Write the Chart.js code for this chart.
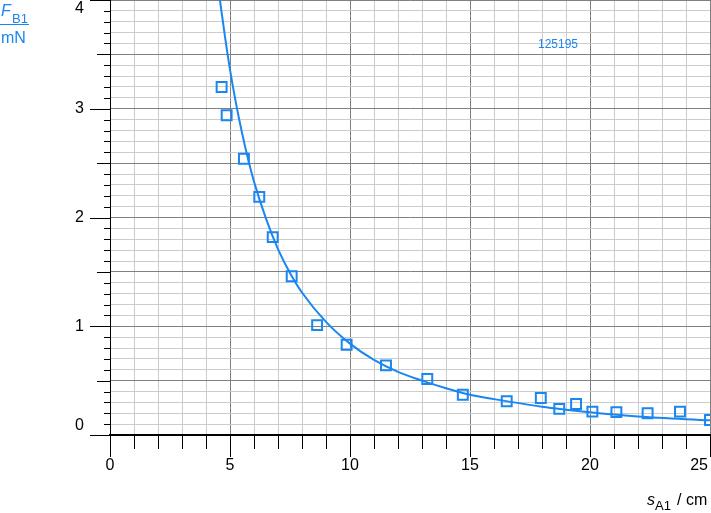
<!DOCTYPE html>
<html>
<head>
<meta charset="utf-8">
<script src="https://cdn.jsdelivr.net/npm/chart.js@4/dist/chart.umd.min.js"></script>
<style>
  html, body { margin: 0; padding: 0; background: #fff; }
  #rahmen { width: 711px; height: 513px; }
</style>
</head>
<body>
<div id="rahmen"><canvas id="diagramm" width="711" height="513"></canvas></div>
<script>
const abstandMessung = [4.65, 4.86, 5.58, 6.22, 6.78, 7.57, 8.63, 9.86, 11.5, 13.22, 14.7, 16.53, 17.95, 18.72, 19.42, 20.1, 21.1, 22.4, 23.75, 25.0];
const kraftMessung = [3.2, 2.94, 2.54, 2.19, 1.82, 1.46, 1.01, 0.83, 0.64, 0.515, 0.37, 0.31, 0.34, 0.24, 0.285, 0.215, 0.21, 0.2, 0.215, 0.138];

// === Ausgleichskurve (Punkte) ===
const abstandKurve = [4.58, 4.8, 5.0, 5.25, 5.5, 5.75, 6.0, 6.5, 7.0, 7.5, 8.0, 9.0, 10, 11, 12, 13, 14, 15, 16, 18, 20, 22, 25];
const kraftKurve = [4.0, 3.65, 3.36, 3.05, 2.78, 2.54, 2.33, 1.99, 1.71, 1.49, 1.31, 1.04, 0.84, 0.69, 0.58, 0.5, 0.43, 0.37, 0.33, 0.26, 0.21, 0.17, 0.135];

// === Achsenbeschriftung ===
const xBeschriftung = [0, 5, 10, 15, 20, 25];
const yBeschriftung = [0, 1, 2, 3, 4];

const BLAU = '#1a86f0';
const SCHRIFT = '"Liberation Sans", Arial, sans-serif';

function istVielfaches(wert, schritt) {
  const q = wert / schritt;
  return Math.abs(q - Math.round(q)) < 1e-6;
}

const achsenPlugin = {
  id: 'achsen',
  afterDraw(chart) {
    const ctx = chart.ctx;
    const xs = chart.scales.x;
    const ys = chart.scales.y;
    const flaeche = chart.chartArea;
    ctx.save();

    // Teilstriche x
    ctx.strokeStyle = '#000';
    ctx.lineWidth = 1;
    xs.ticks.forEach(t => {
      const px = Math.round(xs.getPixelForValue(t.value)) + 0.5;
      const laenge = istVielfaches(t.value, 5) ? 22 : 14;
      ctx.beginPath();
      ctx.moveTo(px, flaeche.bottom);
      ctx.lineTo(px, flaeche.bottom + laenge);
      ctx.stroke();
    });

    // Teilstriche y
    ys.ticks.forEach(t => {
      const py = Math.round(ys.getPixelForValue(t.value)) + 0.5;
      let laenge = 6;
      if (istVielfaches(t.value, 1)) laenge = 20;
      else if (istVielfaches(t.value, 0.5)) laenge = 13;
      ctx.beginPath();
      ctx.moveTo(flaeche.left - laenge, py);
      ctx.lineTo(flaeche.left, py);
      ctx.stroke();
    });

    // Zahlen
    ctx.fillStyle = '#000';
    ctx.font = '16px ' + SCHRIFT;
    ctx.textBaseline = 'middle';
    xBeschriftung.forEach(wert => {
      const text = String(wert);
      const breite = ctx.measureText(text).width;
      let px = xs.getPixelForValue(wert);
      px = Math.min(px, chart.width - 3 - breite / 2);
      ctx.textAlign = 'center';
      ctx.fillText(text, px, flaeche.bottom + 31);
    });
    yBeschriftung.forEach(wert => {
      let py = ys.getPixelForValue(wert);
      py = Math.max(Math.min(py, flaeche.bottom - 9), 9);
      ctx.textAlign = 'right';
      ctx.fillText(String(wert), 84, py);
    });

    // y-Achsentitel
    ctx.fillStyle = BLAU;
    ctx.strokeStyle = BLAU;
    ctx.textAlign = 'left';
    ctx.textBaseline = 'alphabetic';
    ctx.font = 'italic 16px ' + SCHRIFT;
    ctx.fillText('F', 1, 16);
    ctx.font = '13px ' + SCHRIFT;
    ctx.fillText('B1', 12, 23);
    ctx.beginPath();
    ctx.moveTo(0, 24.5);
    ctx.lineTo(29, 24.5);
    ctx.stroke();
    ctx.font = '16px ' + SCHRIFT;
    ctx.fillText('mN', 1, 43);

    // Kennung
    ctx.font = '12px ' + SCHRIFT;
    ctx.textAlign = 'center';
    ctx.fillText('125195', 558, 48);

    // x-Achsentitel
    ctx.fillStyle = '#000';
    ctx.textAlign = 'left';
    ctx.font = 'italic 16px ' + SCHRIFT;
    ctx.fillText('s', 647, 505);
    ctx.font = '13px ' + SCHRIFT;
    ctx.fillText('A1', 655, 510);
    ctx.font = '16px ' + SCHRIFT;
    ctx.fillText('/ cm', 677, 505);

    ctx.restore();
  }
};

function punkte(xWerte, yWerte) {
  return xWerte.map((x, i) => ({ x: x, y: yWerte[i] }));
}

new Chart(document.getElementById('diagramm').getContext('2d'), {
  type: 'scatter',
  data: {
    datasets: [
      {
        label: 'Messung',
        data: punkte(abstandMessung, kraftMessung),
        pointStyle: 'rect',
        pointRadius: 7,
        pointHoverRadius: 7,
        pointBorderWidth: 2,
        pointBorderColor: BLAU,
        pointBackgroundColor: 'rgba(0,0,0,0)',
        order: 0,
      },
      {
        label: 'Kurve',
        data: punkte(abstandKurve, kraftKurve),
        showLine: true,
        borderColor: BLAU,
        borderWidth: 2,
        pointRadius: 0,
        cubicInterpolationMode: 'monotone',
        order: 1,
      },
    ],
  },
  options: {
    responsive: false,
    animation: false,
    devicePixelRatio: 1,
    layout: { autoPadding: false, padding: { left: 110, right: 1, top: 0, bottom: 78 } },
    plugins: { legend: { display: false }, tooltip: { enabled: false } },
    scales: {
      x: {
        type: 'linear',
        min: 0,
        max: 25,
        ticks: { display: false, stepSize: 1, maxTicksLimit: 1000, autoSkip: false },
        grid: {
          drawTicks: false,
          color: c => (istVielfaches(c.tick.value, 5) ? '#808080' : '#cccccc'),
        },
        border: { display: true, color: '#000', width: 2 },
      },
      y: {
        type: 'linear',
        min: 0,
        max: 4,
        ticks: { display: false, stepSize: 0.1, maxTicksLimit: 1000, autoSkip: false },
        grid: {
          drawTicks: false,
          color: c => (istVielfaches(c.tick.value, 0.5) ? '#808080' : '#cccccc'),
        },
        border: { display: true, color: '#000', width: 1 },
      },
    },
  },
  plugins: [achsenPlugin],
});
</script>
</body>
</html>
